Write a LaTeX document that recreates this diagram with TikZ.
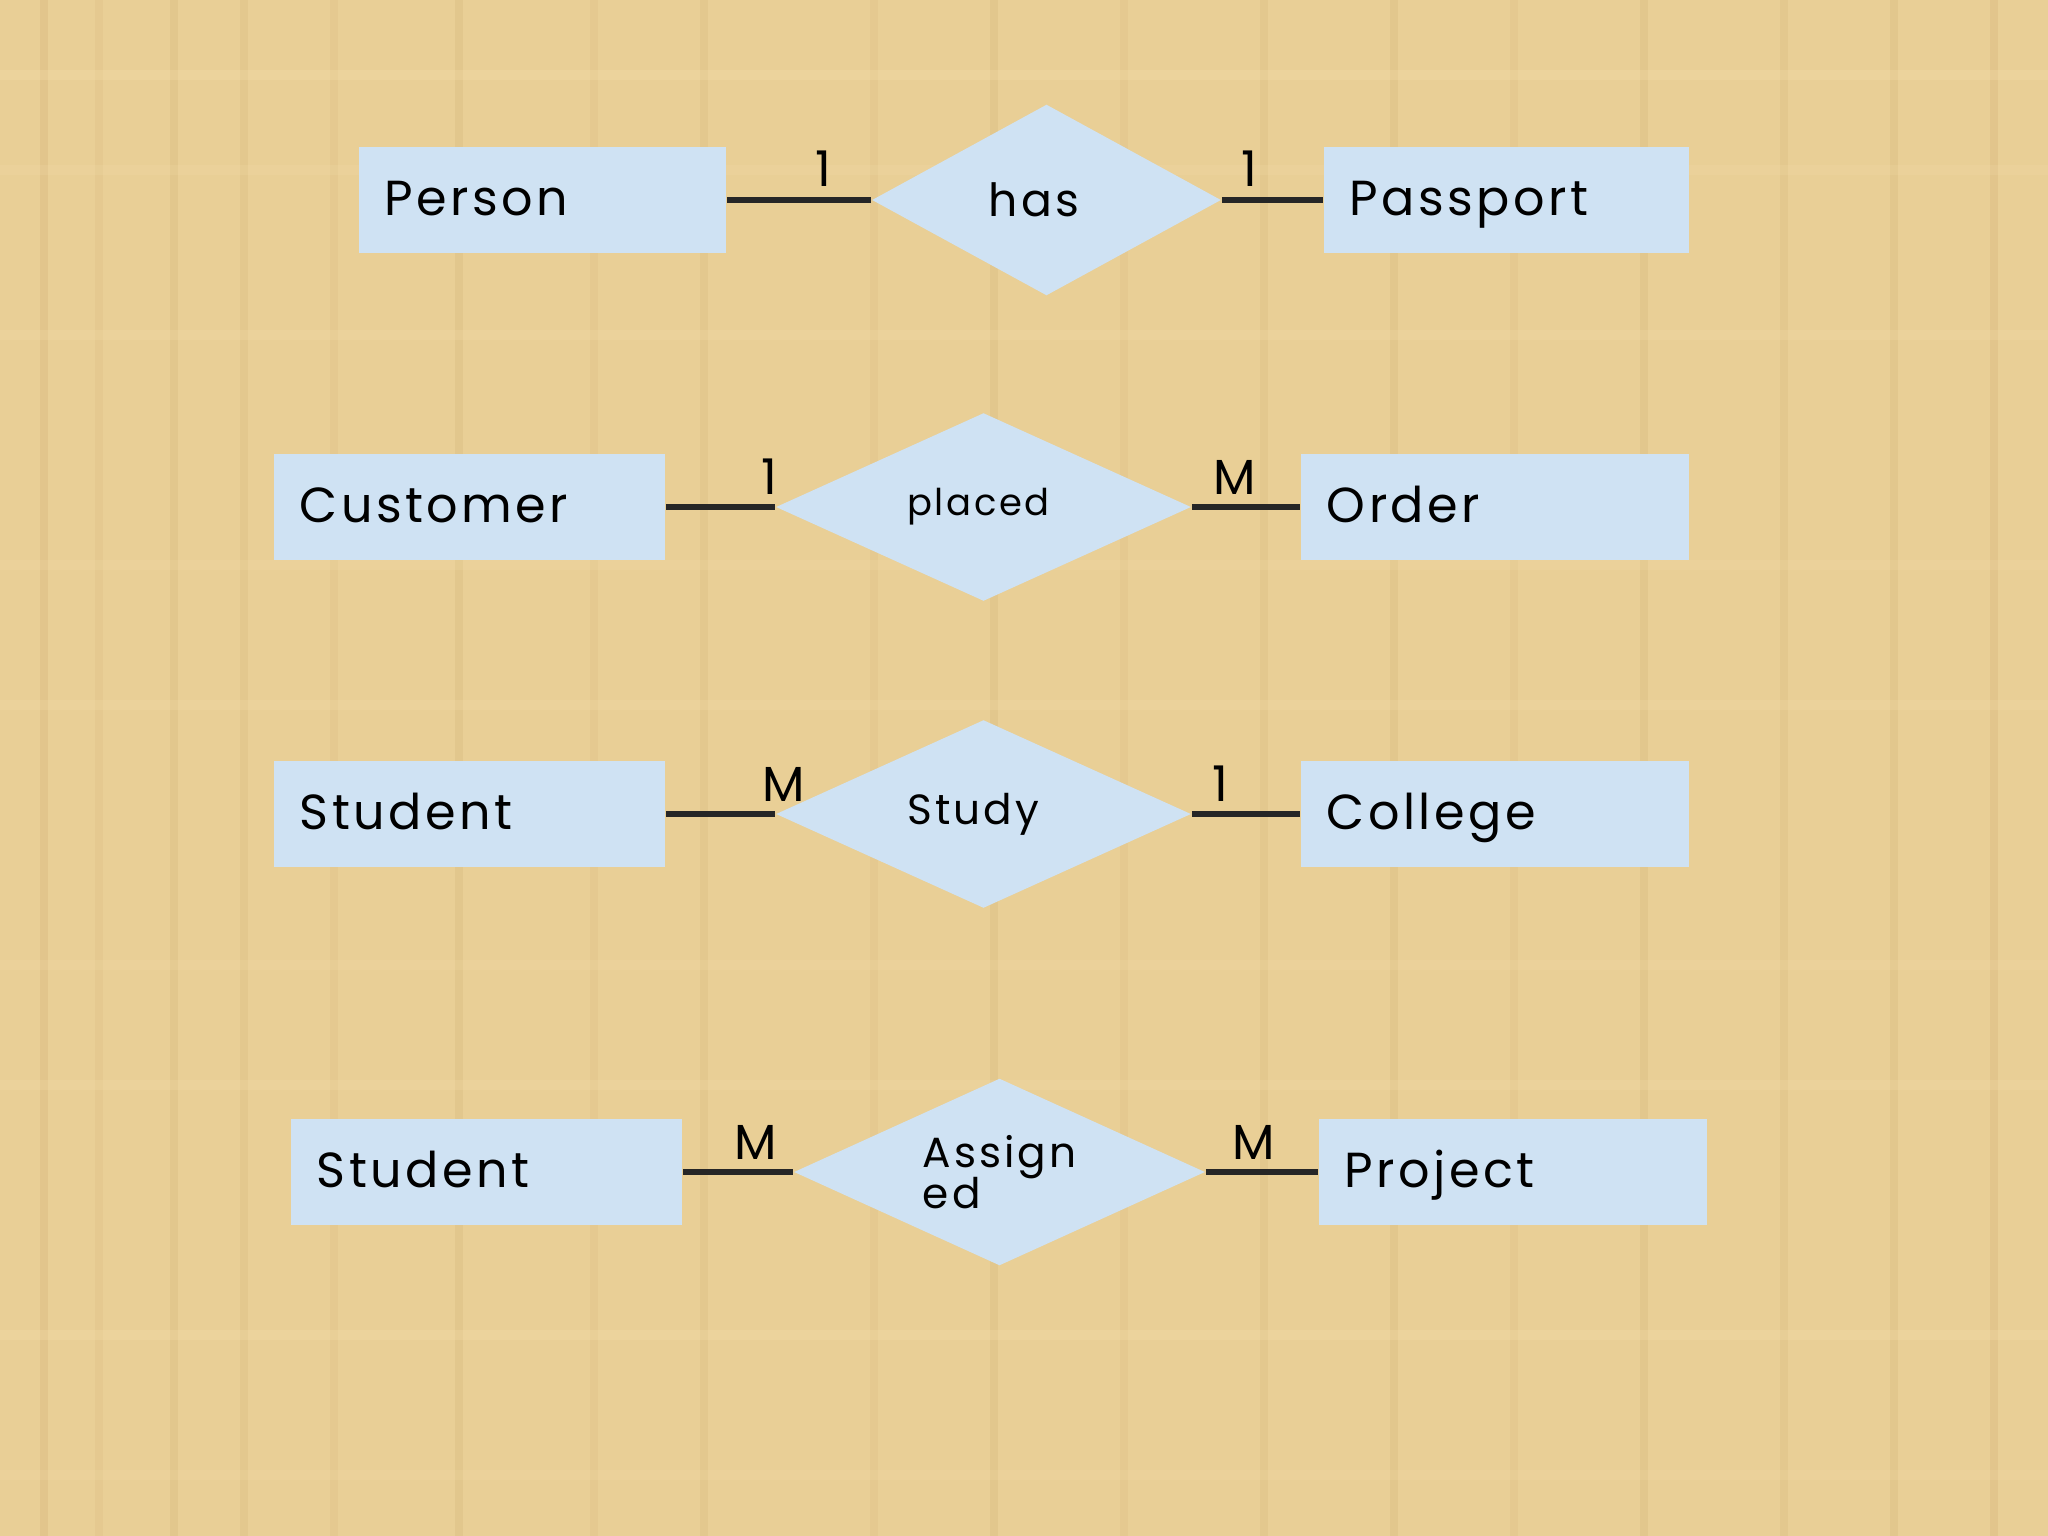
\documentclass[tikz,border=0pt]{standalone}
\usepackage{fontspec}
\setmainfont{Poppins}
\newfontfamily\erfont[LetterSpace=7]{Poppins}
\usepackage{tikz}
\usetikzlibrary{positioning, shapes.geometric}

\definecolor{papertan}{HTML}{E9CF96}
\definecolor{paperdark}{HTML}{D5B57A}
\definecolor{paperlight}{HTML}{F3DDAA}
\definecolor{erblue}{HTML}{CFE2F3}

\tikzset{
    entity/.style={rectangle, fill=erblue, inner xsep=0.26cm, inner ysep=0pt,
        minimum height=1.06cm, text width=#1, align=left,
        text height=0.88em, text depth=0pt, font=\erfont\fontsize{14}{16}\selectfont},
    relation/.style={diamond, fill=erblue, inner sep=0pt, aspect=2.2,
        font=\erfont\fontsize{12}{11.5}\selectfont},
    card/.style={anchor=south, inner sep=0pt, font=\erfont\fontsize{14}{16}\selectfont},
    link/.style={line width=1.5pt, black!85}
}

\begin{document}
\begin{tikzpicture}[x=0.01cm, y=-0.01cm]
        % Paper background
        \fill[papertan] (0,0) rectangle (2048,1536);
        \useasboundingbox (0,0) rectangle (2048,1536);
        \foreach \x/\o in {40/0.35, 95/0.2, 170/0.3, 240/0.25, 330/0.2, 455/0.3, 590/0.2, 700/0.25,
                870/0.2, 990/0.3, 1120/0.2, 1260/0.25, 1390/0.3, 1510/0.2, 1640/0.3, 1780/0.25, 1890/0.3, 1990/0.35} {
                \fill[paperdark, opacity=\o] (\x,0) rectangle ++(8,1536);
        }
        \foreach \y/\o in {70/0.3, 165/0.2, 330/0.25, 560/0.2, 700/0.25, 960/0.2, 1080/0.25, 1330/0.3, 1470/0.2} {
                \fill[paperlight, opacity=\o] (0,\y) rectangle ++(2048,10);
        }

        % Nodes
        \node[entity=3.15cm, minimum width=3.67cm] (person) at (542.5,200) {Person};
        \node[relation, minimum width=3.49cm, minimum height=1.91cm, font=\erfont\fontsize{13}{15}\selectfont] (has) at (1046.5,200) {\kern-0.25cm has};
        \node[entity=3.13cm, minimum width=3.65cm] (passport) at (1506.5,200) {Passport};

        \node[entity=3.39cm, minimum width=3.91cm] (customer) at (469.5,507) {Customer};
        \node[relation, minimum width=4.15cm, minimum height=1.88cm, font=\erfont\fontsize{10.5}{12}\selectfont] (placed) at (983.5,507) {\kern-0.1cm placed};
        \node[entity=3.36cm, minimum width=3.88cm] (order) at (1495,507) {Order};

        \node[entity=3.39cm, minimum width=3.91cm] (student) at (469.5,814) {Student};
        \node[relation, minimum width=4.15cm, minimum height=1.88cm] (study) at (983.5,814) {\kern-0.2cm Study};
        \node[entity=3.36cm, minimum width=3.88cm] (college) at (1495,814) {College};

        \node[entity=3.39cm, minimum width=3.91cm] (studentb) at (486.5,1172) {Student};
        \node[relation, minimum width=4.11cm, minimum height=1.87cm, align=left] (assigned) at (999.5,1172) {Assign\\[-1.5pt]ed};
        \node[entity=3.36cm, minimum width=3.88cm] (project) at (1513,1172) {Project};

        % Edges
        \draw[link] (person) -- (has);
        \draw[link] (has) -- (passport);
        \draw[link] (customer) -- (placed);
        \draw[link] (placed) -- (order);
        \draw[link] (student) -- (study);
        \draw[link] (study) -- (college);
        \draw[link] (studentb) -- (assigned);
        \draw[link] (assigned) -- (project);

        % Cardinalities
        \node[card] (hasl) at (823,187) {1};
        \node[card] (hasr) at (1249,187) {1};
        \node[card] (placedl) at (769,495) {1};
        \node[card] (placedr) at (1235,495) {M};
        \node[card] (studyl) at (784,802) {M};
        \node[card] (studyr) at (1220,802) {1};
        \node[card] (assignedl) at (756,1160) {M};
        \node[card] (assignedr) at (1254,1160) {M};
\end{tikzpicture}
\end{document}
